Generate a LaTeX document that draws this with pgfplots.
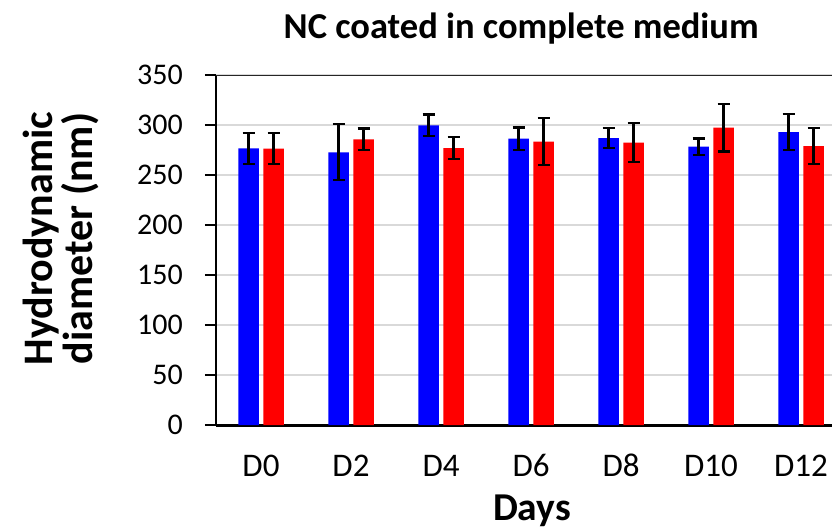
\documentclass[border=0pt]{standalone}
\usepackage{fontspec}
\setmainfont{Carlito}
\usepackage{pgfplots}
\pgfplotsset{compat=1.18}
\definecolor{gridgray}{RGB}{217,217,217}
\begin{document}
\begin{tikzpicture}
\useasboundingbox (-216pt,-106pt) rectangle (616pt,425pt);
\begin{axis}[
  at={(0pt,0pt)}, anchor=south west,
  scale only axis, width=616pt, height=350pt,
  ymin=0, ymax=350, ytick={0,50,...,350},
  xmin=-0.5, xmax=6.344,
  xtick={0,1,2,3,4,5,6},
  xticklabels={D0,D2,D4,D6,D8,D10,D12},
  axis x line*=bottom, axis y line*=left,
  x axis line style={line width=3pt, black},
  y axis line style={line width=2pt, black},
  tick align=outside, major tick length=11pt,
  ytick style={black, line width=1.5pt},
  xtick style={draw=none},
  ymajorgrids, grid style={gridgray, line width=1.5pt},
  /pgf/number format/assume math mode=true,
  yticklabel style={font=\fontsize{30}{36}\selectfont, anchor=east, inner sep=0pt, xshift=-22pt},
  xticklabel style={font=\fontsize{33}{38}\selectfont, anchor=base, inner sep=0pt, yshift=-40pt},
  title={NC coated in complete medium},
  title style={font=\bfseries\fontsize{36.5}{40}\selectfont, at={(axis description cs:0.4955,1)}, anchor=base, yshift=30.5pt, inner sep=0pt},
  xlabel={Days},
  xlabel style={font=\bfseries\fontsize{39.5}{44}\selectfont, at={(axis description cs:0.513,0)}, anchor=base, yshift=-95pt, inner sep=0pt},
  ylabel={Hydrodynamic\\diameter (nm)},
  ylabel style={font=\bfseries\fontsize{42}{40}\selectfont, align=center, at={(axis description cs:-0.252,0.533)}, anchor=center, inner sep=0pt},
  ybar=4.5pt, bar width=20.5pt,
]
\addplot[fill=blue, draw=none,
  error bars/.cd, y dir=both, y explicit,
  error bar style={line width=2.3pt, black},
  error mark options={rotate=90, mark size=6pt, line width=2.3pt, black}]
  table[x=x, y=y, y error=e] {
x y e
0 276.7 15.5
1 272.7 28.0
2 299.7 10.8
3 286.3 11.3
4 287.0 10.0
5 278.3 8.2
6 293.0 18.0
};
\addplot[fill=red, draw=none,
  error bars/.cd, y dir=both, y explicit,
  error bar style={line width=2.3pt, black},
  error mark options={rotate=90, mark size=6pt, line width=2.3pt, black}]
  table[x=x, y=y, y error=e] {
x y e
0 276.3 15.5
1 285.7 10.7
2 277.0 11.3
3 283.3 23.5
4 282.3 19.4
5 297.3 23.7
6 279.0 18.2
};
\draw[black!85, line width=1.5pt] (rel axis cs:0,1) -- (rel axis cs:1,1);
\end{axis}
\end{tikzpicture}
\end{document}
